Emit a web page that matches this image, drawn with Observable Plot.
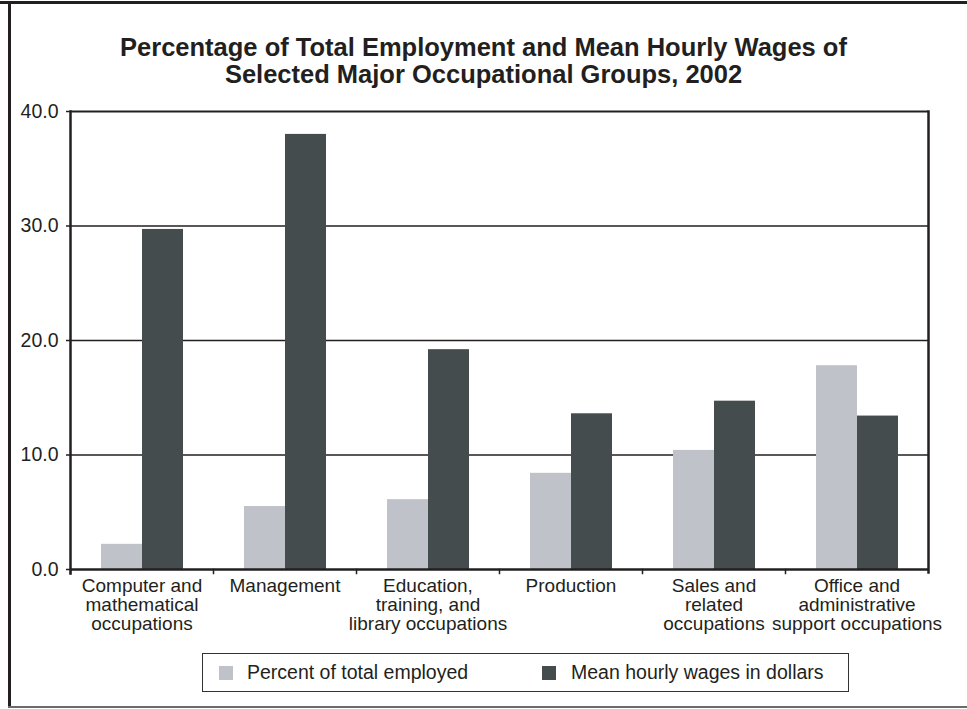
<!DOCTYPE html>
<html>
<head>
<meta charset="utf-8">
<script src="https://cdn.jsdelivr.net/npm/d3@7"></script>
<script src="https://cdn.jsdelivr.net/npm/@observablehq/plot@0.6"></script>
<style>
  body { margin: 0; background: #fff; font-family: "Liberation Sans", Arial, sans-serif; color: #231f20; }
  #wrap { position: relative; width: 967px; height: 709px; overflow: hidden; background: #fff; }
  #bt { position: absolute; left: 0; top: 1px; width: 967px; height: 3px; background: #231f20; }
  #bl { position: absolute; left: 8px; top: 1px; width: 3px; height: 707px; background: #231f20; }
  #bb { position: absolute; left: 8px; top: 706px; width: 959px; height: 2px; background: #6b6b6b; }
  #title { position: absolute; left: 0; top: 34px; width: 967px; text-align: center; font-weight: bold; font-size: 25.5px; line-height: 27px; }
  #chart { position: absolute; left: 0; top: 95px; }
  #legend { position: absolute; left: 202px; top: 653px; width: 645px; height: 37px; border: 1px solid #333; font-size: 19.5px; }
  .sw { position: absolute; top: 12px; width: 14px; height: 14px; }
  .lt { position: absolute; top: 7px; line-height: 22px; white-space: nowrap; }
</style>
</head>
<body>
<div id="wrap">
  <div id="bt"></div><div id="bl"></div><div id="bb"></div>
  <div id="title">Percentage of Total Employment and Mean Hourly Wages of<br>Selected Major Occupational Groups, 2002</div>
  <div id="chart"></div>
  <div id="legend"></div>
</div>
<script>
const categories = [
  "Computer and\nmathematical\noccupations",
  "Management",
  "Education,\ntraining, and\nlibrary occupations",
  "Production",
  "Sales and\nrelated\noccupations",
  "Office and\nadministrative\nsupport occupations"
];
const seriesNames = ["Percent of total employed", "Mean hourly wages in dollars"];
const pctEmployed = [2.2, 5.5, 6.1, 8.4, 10.4, 17.8];
const hourlyWage = [29.7, 38.0, 19.2, 13.6, 14.7, 13.4];
const yTicks = [0, 10, 20, 30, 40];
const colors = ["#bfc3c9", "#454c4e"];

const rows = [];
categories.forEach((c, i) => {
  rows.push({cat: c, series: seriesNames[0], value: pctEmployed[i]});
  rows.push({cat: c, series: seriesNames[1], value: hourlyWage[i]});
});

const H = 545, MT = 16, MB = 71;
const inner = H - MT - MB;
const ink = "#231f20";

const chart = Plot.plot({
  width: 967,
  height: H,
  marginTop: MT,
  marginBottom: MB,
  marginLeft: 69,
  marginRight: 38,
  style: {fontFamily: "'Liberation Sans', Arial, sans-serif", fontSize: "19px", color: ink, background: "transparent"},
  fx: {domain: categories, padding: 0, label: null},
  x: {domain: seriesNames, paddingInner: 0, paddingOuter: 0.73, axis: null},
  y: {domain: [0, 40], label: null},
  color: {domain: seriesNames, range: colors},
  marks: [
    Plot.ruleY(yTicks.filter(d => d > 0 && d < 40), {stroke: ink, strokeWidth: 1.5}),
    Plot.ruleY([40], {stroke: ink, strokeWidth: 2.2}),
    Plot.barY(rows, {fx: "cat", x: "series", y: "value", fill: "series"}),
    Plot.ruleY([0], {stroke: ink, strokeWidth: 2.5}),
    Plot.frame({anchor: "left", facetAnchor: "left", stroke: ink, strokeWidth: 2.5, insetBottom: -4}),
    Plot.frame({anchor: "right", facetAnchor: "right", stroke: ink, strokeWidth: 2.5, insetBottom: -3}),
    Plot.frame({anchor: "left", stroke: ink, strokeWidth: 1.5, insetTop: inner, insetBottom: -4}),
    Plot.axisY({ticks: yTicks, tickFormat: d3.format(".1f"), tickSize: 4, tickPadding: 8, fontSize: 19.5, stroke: ink, strokeWidth: 1.5, label: null}),
    Plot.axisFx({anchor: "bottom", tickSize: 0, tickPadding: 9, fontSize: 19, lineHeight: 1.0, label: null})
  ]
});
document.getElementById("chart").appendChild(chart);

const legend = document.getElementById("legend");
const pos = [[16, 44], [339, 368]];
seriesNames.forEach((s, i) => {
  const sw = document.createElement("div");
  sw.className = "sw"; sw.style.left = pos[i][0] + "px"; sw.style.background = colors[i];
  const t = document.createElement("div");
  t.className = "lt"; t.style.left = pos[i][1] + "px"; t.textContent = s;
  legend.appendChild(sw); legend.appendChild(t);
});
</script>
</body>
</html>
